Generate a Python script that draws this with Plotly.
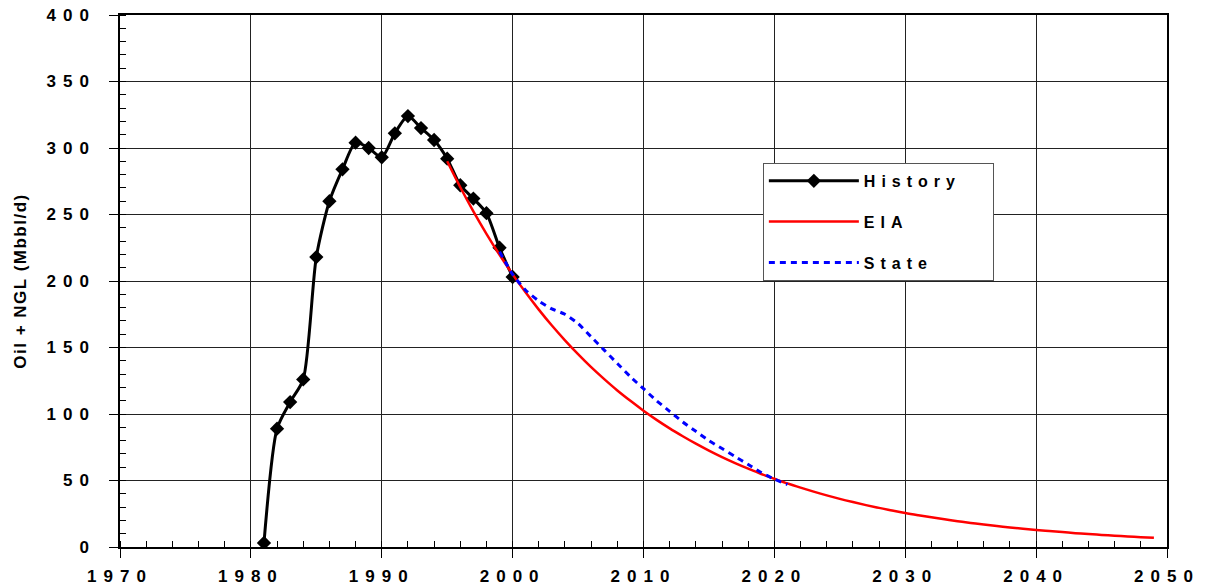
import plotly.graph_objects as go

# ---- data ----
history_years = list(range(1981, 2001))
history_vals = [3, 89, 109, 126, 218, 260, 284, 304, 300, 293,
                311, 324, 315, 306, 292, 272, 262, 251, 225, 203]

eia_years = list(range(1995, 2050))
eia_vals = [290, 270.5, 252.4, 235.5, 219.7, 205, 191.3, 178.5, 166.5, 155.4,
            145.0, 135.2, 126.2, 117.7, 109.9, 102.5, 95.6, 89.2, 83.3, 77.7,
            72.5, 67.6, 63.1, 58.9, 54.9, 51.3, 47.8, 44.6, 41.6, 38.8,
            36.2, 33.8, 31.5, 29.4, 27.5, 25.6, 23.9, 22.3, 20.8, 19.4,
            18.1, 16.9, 15.8, 14.7, 13.7, 12.8, 12.0, 11.2, 10.4, 9.7,
            9.1, 8.5, 7.9, 7.4, 6.9]

state_years = list(range(1999, 2022))
state_vals = [222, 205, 193, 185, 179, 175, 168, 158, 148, 138,
              128, 119, 110, 102, 94, 87, 80, 74, 68, 62,
              56, 51, 47]

x_tick_vals = [1970, 1980, 1990, 2000, 2010, 2020, 2030, 2040, 2050]
x_tick_labels = ["1970", "1980", "1990", "2000", "2010", "2020", "2030", "2040", "2050"]
y_tick_vals = [0, 50, 100, 150, 200, 250, 300, 350, 400]
y_tick_labels = ["0", "50", "100", "150", "200", "250", "300", "350", "400"]

series_names = ["History", "EIA", "State"]
y_title = "Oil + NGL (Mbbl/d)"

FONT = "Liberation Sans, Arial, sans-serif"


def spaced(s, ls=7):
    return '<span style="letter-spacing:%spx">%s</span>' % (ls, s)


def legend_name(s):
    return spaced(s, 6) + "\u00a0" * 6


fig = go.Figure()

fig.add_trace(go.Scatter(
    x=history_years, y=history_vals, name=legend_name(series_names[0]),
    mode="lines+markers", legendgroup="a",
    line=dict(color="black", width=3, shape="spline", smoothing=0.7),
    marker=dict(symbol="diamond", size=11, color="black"),
))
fig.add_trace(go.Scatter(
    x=eia_years, y=eia_vals, name=legend_name(series_names[1]),
    mode="lines", legendgroup="b",
    line=dict(color="#ff0000", width=2.5, shape="spline", smoothing=1.0),
))
fig.add_trace(go.Scatter(
    x=state_years, y=state_vals, name=legend_name(series_names[2]),
    mode="lines", legendgroup="c",
    line=dict(color="#0000ff", width=3, dash="6px,5px", shape="spline", smoothing=0.6),
))

fig.update_layout(
    width=1205, height=588,
    margin=dict(l=120, r=38, t=15, b=41, autoexpand=False),
    paper_bgcolor="white", plot_bgcolor="white",
    font=dict(family=FONT, color="black"),
    showlegend=True,
    legend=dict(
        x=0.614, y=0.722, xanchor="left", yanchor="top",
        bordercolor="#555555", borderwidth=1, bgcolor="white",
        font=dict(family=FONT, size=16, weight="bold", color="black"),
        traceorder="grouped", tracegroupgap=17, itemwidth=90,
    ),
)

fig.update_xaxes(
    range=[1970, 2050], tickmode="array", tickvals=x_tick_vals,
    ticktext=[spaced(t) for t in x_tick_labels],
    tickfont=dict(family=FONT, size=17, weight="bold", color="black"),
    ticks="outside", ticklen=9, tickwidth=1, tickcolor="black",
    ticklabelstandoff=4, automargin=False,
    showline=True, linecolor="black", linewidth=1.5, mirror=True,
    showgrid=True, gridcolor="#222222", gridwidth=1,
    minor=dict(dtick=2, tick0=1970, ticks="inside", ticklen=6, tickcolor="black", showgrid=False),
    zeroline=False,
)
fig.update_yaxes(
    range=[0, 400], tickmode="array", tickvals=y_tick_vals,
    ticktext=[spaced(t) for t in y_tick_labels],
    tickfont=dict(family=FONT, size=17, weight="bold", color="black"),
    ticks="outside", ticklen=9, tickwidth=1, tickcolor="black",
    ticklabelstandoff=10, automargin=False,
    showline=True, linecolor="black", linewidth=1.5, mirror=True,
    showgrid=True, gridcolor="#222222", gridwidth=1,
    minor=dict(dtick=10, tick0=0, ticks="inside", ticklen=6, tickcolor="black", showgrid=False),
    zeroline=False,
    title=dict(text=spaced(y_title, 1.5),
               font=dict(family=FONT, size=17, weight="bold", color="black"), standoff=16),
)

fig.write_html("out.html", config={"displayModeBar": False},
               post_script="document.body.style.margin='0';")
